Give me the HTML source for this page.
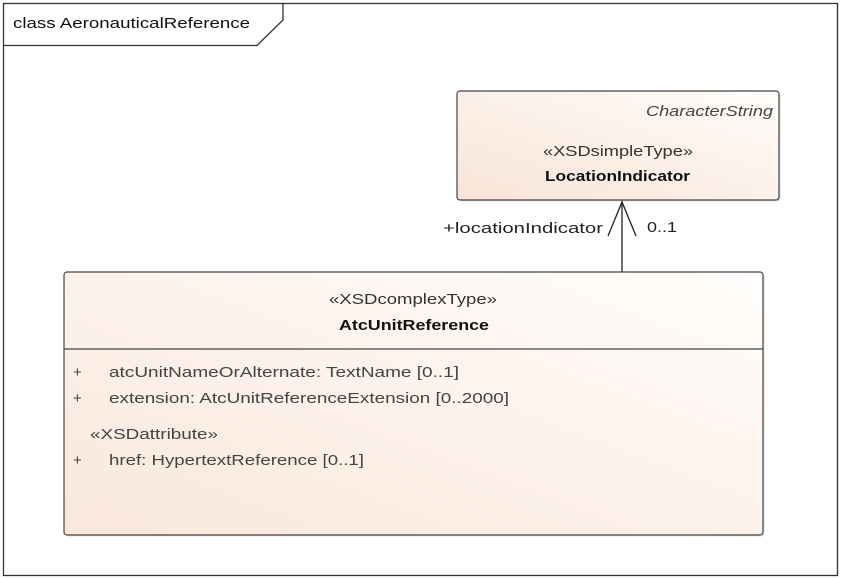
<!DOCTYPE html>
<html><head><meta charset="utf-8"><style>
html,body{margin:0;padding:0;background:#fff;}
svg{display:block;font-family:"Liberation Sans","DejaVu Sans",sans-serif;}
</style></head><body>
<svg width="843" height="579" viewBox="0 0 843 579" xmlns="http://www.w3.org/2000/svg">
<defs>
<linearGradient id="g" x1="0" y1="1" x2="1" y2="0">
<stop offset="0" stop-color="#f8e4d6"/><stop offset="1" stop-color="#fffdfb"/>
</linearGradient>
<linearGradient id="g2" x1="0" y1="1" x2="1" y2="0">
<stop offset="0" stop-color="#f9e7da"/><stop offset="1" stop-color="#fffdfc"/>
</linearGradient>
</defs>
<rect x="0" y="0" width="843" height="579" fill="#fff"/>
<rect x="3.5" y="3.5" width="834" height="572" fill="none" stroke="#333" stroke-width="1.3"/>
<path d="M3.5 45.5 H257 L283 20 V3.5" fill="none" stroke="#333" stroke-width="1.3"/>
<text x="13" y="28" font-size="15" fill="#111" textLength="237" lengthAdjust="spacingAndGlyphs">class AeronauticalReference</text>

<rect x="458.5" y="92.5" width="322" height="109" rx="3" fill="#ccc" opacity="0.6"/>
<rect x="457" y="91" width="322" height="109" rx="3" fill="url(#g)" stroke="#444" stroke-width="1.2"/>
<text x="646" y="116" font-size="15" font-style="italic" fill="#444" textLength="127" lengthAdjust="spacingAndGlyphs">CharacterString</text>
<text x="543" y="156" font-size="15" fill="#333" textLength="150" lengthAdjust="spacingAndGlyphs">«XSDsimpleType»</text>
<text x="545" y="181" font-size="15" font-weight="bold" fill="#111" textLength="145" lengthAdjust="spacingAndGlyphs">LocationIndicator</text>

<line x1="622" y1="201" x2="622" y2="272" stroke="#222" stroke-width="1.3"/>
<path d="M608 236 L622 202 L636 236" fill="none" stroke="#222" stroke-width="1.3"/>
<text x="443" y="233" font-size="15" fill="#222" textLength="160" lengthAdjust="spacingAndGlyphs">+locationIndicator</text>
<text x="647" y="232" font-size="15" fill="#222" textLength="30" lengthAdjust="spacingAndGlyphs">0..1</text>

<rect x="65.5" y="273.5" width="699" height="263" rx="3" fill="#ccc" opacity="0.6"/>
<rect x="64" y="272" width="699" height="263" rx="3" fill="url(#g2)" stroke="#444" stroke-width="1.2"/>
<text x="329" y="304" font-size="15" fill="#333" textLength="168" lengthAdjust="spacingAndGlyphs">«XSDcomplexType»</text>
<text x="339" y="330" font-size="15" font-weight="bold" fill="#111" textLength="150" lengthAdjust="spacingAndGlyphs">AtcUnitReference</text>
<line x1="64" y1="349" x2="763" y2="349" stroke="#444" stroke-width="1.2"/>
<g font-size="15" fill="#444">
<text x="73" y="377">+</text><text x="109" y="377" textLength="350" lengthAdjust="spacingAndGlyphs">atcUnitNameOrAlternate: TextName [0..1]</text>
<text x="73" y="403">+</text><text x="109" y="403" textLength="400" lengthAdjust="spacingAndGlyphs">extension: AtcUnitReferenceExtension [0..2000]</text>
<text x="90" y="439" textLength="128" lengthAdjust="spacingAndGlyphs">«XSDattribute»</text>
<text x="73" y="465">+</text><text x="109" y="465" textLength="255" lengthAdjust="spacingAndGlyphs">href: HypertextReference [0..1]</text>
</g>
</svg>
</body></html>
